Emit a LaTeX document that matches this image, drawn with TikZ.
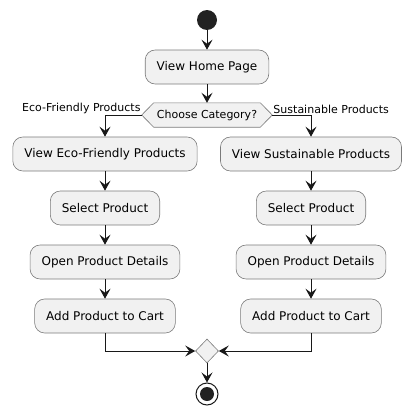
\documentclass[tikz,border=0pt]{standalone}
\usepackage{fontspec}
\setmainfont{DejaVu Sans}
\usepackage{xcolor}
\usetikzlibrary{shapes.geometric}
\usetikzlibrary{arrows.meta}
\definecolor{boxfill}{HTML}{F1F1F1}
\definecolor{boxline}{HTML}{7A7A7A}
\definecolor{ink}{HTML}{181818}
\definecolor{dot}{HTML}{222222}

\begin{document}
\begin{tikzpicture}[x=1pt,y=-1pt,
  act/.style={draw=boxline, fill=boxfill, line width=0.6pt, rounded corners=10pt, minimum height=34pt, inner xsep=11.5pt, inner ysep=0pt, font=\fontsize{12}{14}\selectfont},
  flow/.style={ink, line width=1pt, -{Stealth[length=10pt,width=11pt,inset=4pt]}},
  lbl/.style={font=\fontsize{11}{13}\selectfont, inner sep=1pt},
  startnode/.style={circle, fill=dot, minimum size=20pt, inner sep=0pt},
  stopnode/.style={circle, draw=ink, line width=1pt, fill=white, minimum size=22pt, inner sep=0pt,
    path picture={\fill[dot] (path picture bounding box.center) circle (7pt);}},
  mergenode/.style={diamond, draw=boxline, fill=boxfill, line width=0.6pt, minimum width=23pt, minimum height=24pt, inner sep=0pt, aspect=1}]
\useasboundingbox (0,0) rectangle (414,415);

\node [startnode] (start) at (207,20) {};
\node [act] (home) at (207,67) {View Home Page};

% decision
\node [font=\fontsize{11}{13}\selectfont, minimum height=24pt, inner xsep=3pt, inner ysep=0pt] (choose) at (207,115) {Choose Category?};
\coordinate (chooseL) at ([xshift=-12pt]choose.west);
\coordinate (chooseR) at ([xshift=12pt]choose.east);
\draw [boxline, fill=boxfill, line width=0.6pt] (chooseL) -- (choose.north west) -- (choose.north east) -- (chooseR) -- (choose.south east) -- (choose.south west) -- cycle;
\node [font=\fontsize{11}{13}\selectfont] at (choose) {Choose Category?};
\node [lbl, anchor=south east] (ecolbl) at (chooseL) {Eco-Friendly Products};
\node [lbl, anchor=south west] (suslbl) at (chooseR) {Sustainable Products};

\node [act] (eco) at (105,154) {View Eco-Friendly Products};
\node [act] (sel1) at (105,208) {Select Product};
\node [act] (open1) at (105,262) {Open Product Details};
\node [act] (cart1) at (105,316) {Add Product to Cart};

\node [act] (sus) at (311,154) {View Sustainable Products};
\node [act] (sel2) at (311,208) {Select Product};
\node [act] (open2) at (311,262) {Open Product Details};
\node [act] (cart2) at (311,316) {Add Product to Cart};

\node [mergenode] (merge) at (207,351) {};
\node [stopnode] (stop) at (207,394) {};

\draw [flow] (start) -- (home);
\draw [flow] (home) -- (choose);
\draw [flow] (chooseL) -| (eco);
\draw [flow] (chooseR) -| (sus);
\draw [flow] (eco) -- (sel1);
\draw [flow] (sel1) -- (open1);
\draw [flow] (open1) -- (cart1);
\draw [flow] (sus) -- (sel2);
\draw [flow] (sel2) -- (open2);
\draw [flow] (open2) -- (cart2);
\draw [flow] (cart1) |- (merge);
\draw [flow] (cart2) |- (merge);
\draw [flow] (merge) -- (stop);

\end{tikzpicture}
\end{document}
